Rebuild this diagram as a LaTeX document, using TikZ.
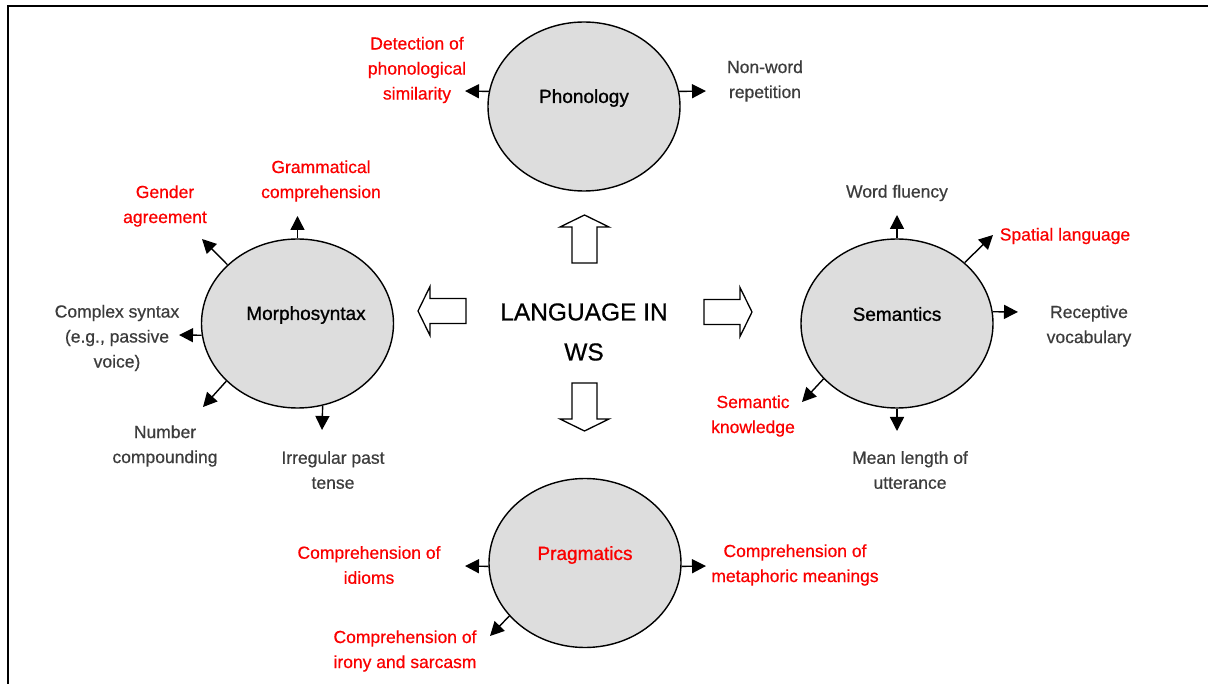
\documentclass[tikz,border=0pt]{standalone}
\usepackage{fontspec}
\setmainfont{Liberation Sans}
\newfontfamily\lblfont{Liberation Sans}[FakeBold=0.6]
\newfontfamily\namefont{Liberation Sans}[FakeBold=1.0]
\usetikzlibrary{arrows.meta,shapes.geometric}

\definecolor{lblgray}{RGB}{60,60,60}
\definecolor{hired}{RGB}{250,0,0}
\definecolor{ovalfill}{RGB}{221,221,221}

\tikzset{
  area/.style={ellipse,draw=black,fill=ovalfill,line width=1.4pt,
    minimum width=192pt,minimum height=169pt,inner sep=0pt},
  areaname/.style={font=\namefont\fontsize{19}{24}\selectfont,text=black,inner sep=0pt},
  lbl/.style={font=\lblfont\fontsize{17.5}{25}\selectfont,text=lblgray,align=center,inner sep=0pt},
  redlbl/.style={lbl,text=hired},
  conn/.style={line width=1.4pt,-{Triangle[length=14pt,width=14pt]}},
  blkarrow/.pic={
    \draw[line width=1.3pt,fill=white,line join=miter]
      (0,-12.5) -- (36,-12.5) -- (36,-24.5) -- (48,0) -- (36,24.5)
      -- (36,12.5) -- (0,12.5) -- cycle;
  }
}

\begin{document}
\begin{tikzpicture}[x=1pt,y=-1pt]
\useasboundingbox (0,0) rectangle (1208,684);

% frame (top and left edges)
\draw[line width=2pt] (7.5,684) -- (7.5,6.5) -- (1208,6.5);

% central title and its four block arrows
\node[font=\lblfont\fontsize{24.5}{40}\selectfont,align=center,inner sep=0pt] (title) at (584,332) {LANGUAGE IN\\WS};
\pic[rotate=90]  (upA)    at (584.5,263) {blkarrow};
\pic[rotate=-90] (downA)  at (584.5,383) {blkarrow};
\pic             (rightA) at (704,312)   {blkarrow};
\pic[rotate=180] (leftA)  at (466,311)   {blkarrow};

% the four language areas
\node[area] (pho) at (584,106.5) {};
\node[area] (mor) at (297.5,323.5) {};
\node[area] (sem) at (897,323.5) {};
\node[area] (pra) at (585,563) {};

\node[areaname] (phoT) at (584,98) {Phonology};
\node[areaname] (morT) at (306,315) {Morphosyntax};
\node[areaname] (semT) at (897,314) {Semantics};
\node[areaname,text=hired] (praT) at (585,555) {Pragmatics};

% phonology
\coordinate (phoL) at (465,91);
\coordinate (phoR) at (706,91);
\draw[conn] (pho.171) -- (phoL);
\draw[conn] (pho.9) -- (phoR);
\node[redlbl] (det) at (417,70) {Detection of\\phonological\\similarity};
\node[lbl] (nonword) at (765,81) {Non-word\\repetition};

% morphosyntax
\coordinate (morU)  at (297.5,216);
\coordinate (morUL) at (202,239);
\coordinate (morL)  at (179,335);
\coordinate (morDL) at (203,407);
\coordinate (morD)  at (322,430);
\draw[conn] (mor.90) -- (morU);
\draw[conn] (mor.140) -- (morUL);
\draw[conn] (mor.187) -- (morL);
\draw[conn] (mor.219) -- (morDL);
\draw[conn] (mor.287) -- (morD);
\node[redlbl] (gram) at (321,181) {Grammatical\\comprehension};
\node[redlbl] (gender) at (165,206) {Gender\\agreement};
\node[lbl] (complex) at (117,338) {Complex syntax\\(e.g., passive\\voice)};
\node[lbl] (number) at (165,446) {Number\\compounding};
\node[lbl] (irregular) at (333,470) {Irregular past\\tense};

% semantics
\coordinate (semU)  at (897,215);
\coordinate (semUR) at (993,235);
\coordinate (semR)  at (1018,312);
\coordinate (semDL) at (802,402);
\coordinate (semD)  at (897,431);
\draw[conn] (sem.90) -- (semU);
\draw[conn] (sem.42) -- (semUR);
\draw[conn] (sem.7) -- (semR);
\draw[conn] (sem.217) -- (semDL);
\draw[conn] (sem.270) -- (semD);
\node[lbl] (wordfl) at (897,193) {Word fluency};
\node[redlbl] (spatial) at (1065,236) {Spatial language};
\node[lbl] (receptive) at (1089,326) {Receptive\\vocabulary};
\node[redlbl] (semknow) at (753,416) {Semantic\\knowledge};
\node[lbl] (mlu) at (910,470) {Mean length of\\utterance};

% pragmatics
\coordinate (praL)  at (465,566);
\coordinate (praR)  at (706,566);
\coordinate (praDL) at (490,636);
\draw[conn] (pra.182) -- (praL);
\draw[conn] (pra.358) -- (praR);
\draw[conn] (pra.215) -- (praDL);
\node[redlbl] (idioms) at (369,565) {Comprehension of\\idioms};
\node[redlbl] (metaph) at (795,565) {Comprehension of\\metaphoric meanings};
\node[redlbl] (irony) at (405,651) {Comprehension of\\irony and sarcasm};
\end{tikzpicture}
\end{document}
